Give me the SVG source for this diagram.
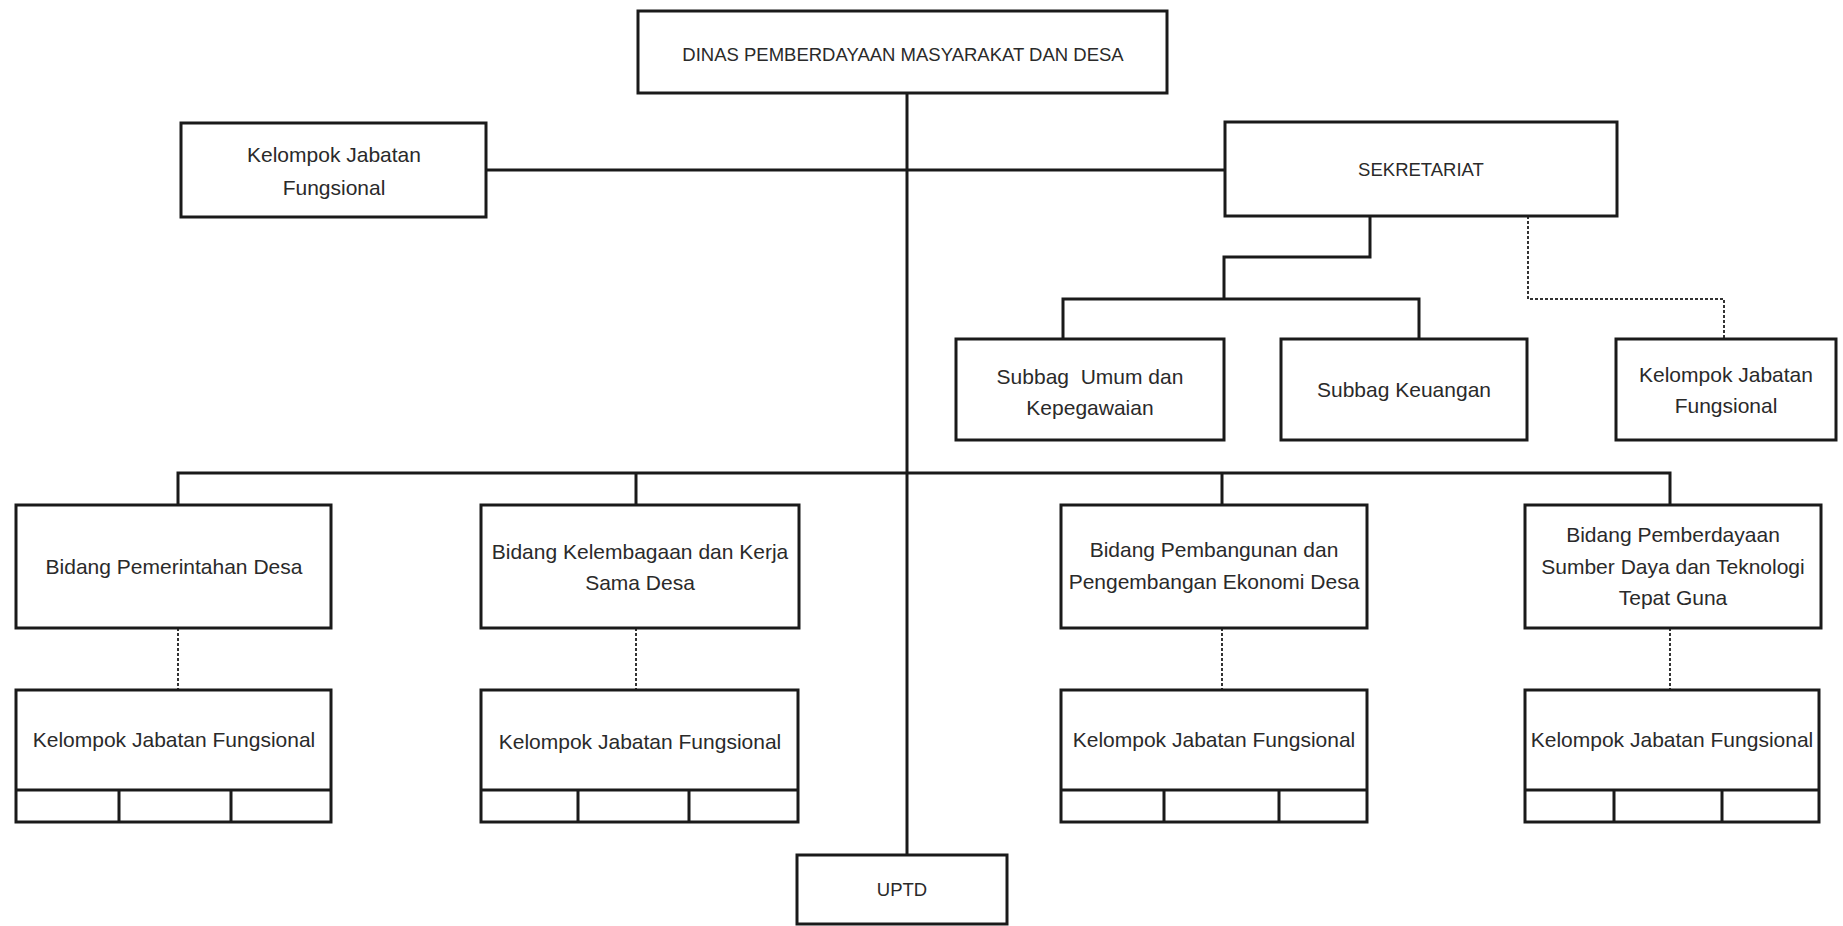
<svg xmlns="http://www.w3.org/2000/svg" width="1843" height="926" viewBox="0 0 1843 926">
  <style>
    .box { fill: #ffffff; stroke: #1a1a1a; stroke-width: 3; }
    .sub { fill: none; stroke: #1a1a1a; stroke-width: 3; }
    .line { fill: none; stroke: #1a1a1a; stroke-width: 3; }
    .dash { fill: none; stroke: #333333; stroke-width: 2; stroke-dasharray: 3 2; }
    text { font-family: "Liberation Sans", Arial, sans-serif; font-size: 21px; fill: #2a2a2a; text-anchor: middle; }
    .caps { font-size: 18.5px; }
  </style>
  <rect width="1843" height="926" fill="#ffffff"/>

  <!-- connectors -->
  <g id="connectors">
    <path class="line" d="M907 93 V855"/>
    <path class="line" d="M486 170 H1225"/>
    <path class="line" d="M1370 216 V257 H1224 V299"/>
    <path class="line" d="M1063 339 V299 H1419 V339"/>
    <path class="dash" d="M1528 216 V299 H1724 V339"/>
    <path class="line" d="M178 505 V473 H1670 V505"/>
    <path class="line" d="M636 473 V505"/>
    <path class="line" d="M1222 473 V505"/>
    <path class="dash" d="M178 628 V690"/>
    <path class="dash" d="M636 628 V690"/>
    <path class="dash" d="M1222 628 V690"/>
    <path class="dash" d="M1670 628 V690"/>
  </g>

  <g id="dinas">
    <rect class="box" x="638" y="11" width="529" height="82"/>
    <text class="caps" x="903" y="61">DINAS PEMBERDAYAAN MASYARAKAT DAN DESA</text>
  </g>

  <g id="kjf-kepala">
    <rect class="box" x="181" y="123" width="305" height="94"/>
    <text x="334" y="162">Kelompok Jabatan</text>
    <text x="334" y="195">Fungsional</text>
  </g>

  <g id="sekretariat">
    <rect class="box" x="1225" y="122" width="392" height="94"/>
    <text class="caps" x="1421" y="176">SEKRETARIAT</text>
  </g>

  <g id="subbag-umum">
    <rect class="box" x="956" y="339" width="268" height="101"/>
    <text x="1090" y="384">Subbag&#160; Umum dan</text>
    <text x="1090" y="415">Kepegawaian</text>
  </g>

  <g id="subbag-keuangan">
    <rect class="box" x="1281" y="339" width="246" height="101"/>
    <text x="1404" y="397">Subbag Keuangan</text>
  </g>

  <g id="kjf-sekretariat">
    <rect class="box" x="1616" y="339" width="220" height="101"/>
    <text x="1726" y="382">Kelompok Jabatan</text>
    <text x="1726" y="413">Fungsional</text>
  </g>

  <g id="bidang-pemerintahan">
    <rect class="box" x="16" y="505" width="315" height="123"/>
    <text x="174" y="574">Bidang Pemerintahan Desa</text>
  </g>

  <g id="bidang-kelembagaan">
    <rect class="box" x="481" y="505" width="318" height="123"/>
    <text x="640" y="559">Bidang Kelembagaan dan Kerja</text>
    <text x="640" y="590">Sama Desa</text>
  </g>

  <g id="bidang-pembangunan">
    <rect class="box" x="1061" y="505" width="306" height="123"/>
    <text x="1214" y="557">Bidang Pembangunan dan</text>
    <text x="1214" y="589">Pengembangan Ekonomi Desa</text>
  </g>

  <g id="bidang-pemberdayaan">
    <rect class="box" x="1525" y="505" width="296" height="123"/>
    <text x="1673" y="542">Bidang Pemberdayaan</text>
    <text x="1673" y="574">Sumber Daya dan Teknologi</text>
    <text x="1673" y="605">Tepat Guna</text>
  </g>

  <g id="kjf-pemerintahan">
    <rect class="box" x="16" y="690" width="315" height="132"/>
    <path class="sub" d="M16 790 H331 M119 790 V822 M231 790 V822"/>
    <text x="174" y="747">Kelompok Jabatan Fungsional</text>
  </g>

  <g id="kjf-kelembagaan">
    <rect class="box" x="481" y="690" width="317" height="132"/>
    <path class="sub" d="M481 790 H798 M578 790 V822 M689 790 V822"/>
    <text x="640" y="749">Kelompok Jabatan Fungsional</text>
  </g>

  <g id="kjf-pembangunan">
    <rect class="box" x="1061" y="690" width="306" height="132"/>
    <path class="sub" d="M1061 790 H1367 M1164 790 V822 M1279 790 V822"/>
    <text x="1214" y="747">Kelompok Jabatan Fungsional</text>
  </g>

  <g id="kjf-pemberdayaan">
    <rect class="box" x="1525" y="690" width="294" height="132"/>
    <path class="sub" d="M1525 790 H1819 M1614 790 V822 M1722 790 V822"/>
    <text x="1672" y="747">Kelompok Jabatan Fungsional</text>
  </g>

  <g id="uptd">
    <rect class="box" x="797" y="855" width="210" height="69"/>
    <text class="caps" x="902" y="896">UPTD</text>
  </g>
</svg>
